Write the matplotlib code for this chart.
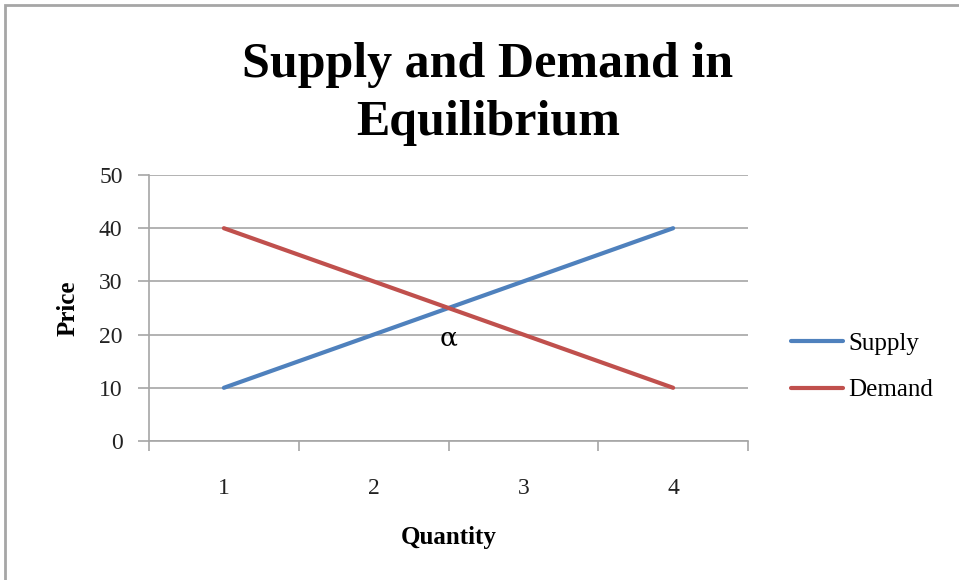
import matplotlib.pyplot as plt
from matplotlib.patches import Rectangle

quantity = [1, 2, 3, 4]
supply = [10, 20, 30, 40]
demand = [40, 30, 20, 10]
price_ticks = [0, 10, 20, 30, 40, 50]
title = "Supply and Demand in\nEquilibrium"
marker_text = "α"

plt.rcParams['font.family'] = ['Liberation Serif', 'DejaVu Serif']

fig = plt.figure(figsize=(9.59, 5.80), dpi=100)
# outer chart frame
fig.patches.append(Rectangle((5 / 959, -0.01), 1.0, 1 - 5 / 580 + 0.01, transform=fig.transFigure,
                             fill=False, edgecolor='#a6a6a6', linewidth=2))

ax = fig.add_axes([149 / 959, 1 - 441 / 580, (748 - 149) / 959, (441 - 175) / 580])

ax.plot(quantity, supply, color='#4F81BD', linewidth=3, solid_capstyle='round', label='Supply', zorder=3)
ax.plot(quantity, demand, color='#C0504D', linewidth=3, solid_capstyle='round', label='Demand', zorder=3)
ax.text(2.5, 19.4, marker_text, ha='center', va='center', fontsize=19, family=['DejaVu Serif'])

ax.set_xlim(0.5, 4.5)
ax.set_ylim(0, 50)
ax.set_yticks(price_ticks)
ax.set_xticks([0.5, 1.5, 2.5, 3.5, 4.5])
ax.set_xticklabels([])
ax.set_xticks(quantity, minor=True)
ax.set_xticklabels([str(q) for q in quantity], minor=True)
ax.tick_params(axis='x', which='major', length=7, color='#a6a6a6', width=1.2, direction='out')
ax.tick_params(axis='x', which='minor', length=0, pad=27, labelsize=17, colors='#222222')
ax.tick_params(axis='y', length=8, color='#a6a6a6', width=1.2, pad=11, labelsize=17, labelcolor='#222222')

ax.grid(axis='y', color='#a6a6a6', linewidth=1.2)
ax.set_axisbelow(True)
for side in ['top', 'right']:
    ax.spines[side].set_visible(False)
for side in ['left', 'bottom']:
    ax.spines[side].set_color('#a6a6a6')
    ax.spines[side].set_linewidth(1.2)

ax.set_xlabel('Quantity', fontsize=18, fontweight='bold', labelpad=19)
ax.set_ylabel('Price', fontsize=18, fontweight='bold', labelpad=14)

fig.text(488 / 959, 1 - 94 / 580, title, ha='center', va='center', fontsize=36,
         fontweight='bold', linespacing=1.33)

fig.legend(loc='center left', bbox_to_anchor=(768 / 959, 1 - 367 / 580), frameon=False,
           fontsize=18, handlelength=2.1, handletextpad=0.2, labelspacing=0.95)

fig.savefig('out.png', dpi=100)
